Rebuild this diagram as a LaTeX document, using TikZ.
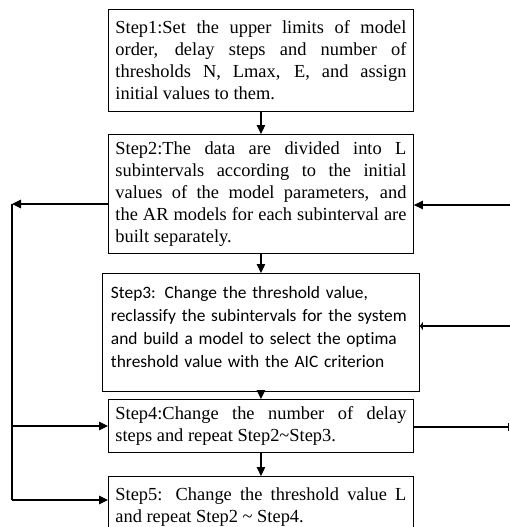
\documentclass[tikz,border=0pt]{standalone}
\usepackage{fontspec}
\setmainfont{Liberation Serif}
\newfontfamily\calfont[Ligatures=NoCommon]{Carlito}
\usetikzlibrary{arrows.meta}

\begin{document}
\begin{tikzpicture}[x=1pt, y=-1pt,
    box/.style={draw, line width=0.9pt, anchor=north west, inner xsep=7pt, inner ysep=0pt,
                text width=291pt, align=justify, font=\fontsize{18.4}{22}\selectfont},
    flow/.style={line width=1.1pt, -{Triangle[length=9pt,width=8.5pt]}}]
    \useasboundingbox (0,0) rectangle (510,527);
    \clip (0,0) rectangle (510,527);

    \node[box, minimum height=102pt] (s1) at (108,9) {Step1:Set the upper limits of model\linebreak order, delay steps and number of\linebreak thresholds N, Lmax, E, and assign\linebreak initial values to them.};
    \node[box, minimum height=119pt] (s2) at (108,134) {Step2:The data are divided into L\linebreak subintervals according to the initial\linebreak values of the model parameters, and\linebreak the AR models for each subinterval are\linebreak built separately.};
    \node[box, minimum height=118pt, inner xsep=8.5pt, text width=300pt, align=left,
          font=\calfont\fontsize{17.4}{23}\selectfont] (s3) at (102,273) {Step3: Change the threshold value,\\ reclassify the subintervals for the system\\ and build a model to select the optima\\ threshold value with the AIC criterion\\[-12pt]\mbox{}};
    \node[box, minimum height=53pt] (s4) at (108,399) {Step4:Change the number of delay\linebreak steps and repeat Step2\textasciitilde{}Step3.};
    \node[box, minimum height=62pt] (s5) at (108,476) {Step5: Change the threshold value L\linebreak and repeat Step2 \textasciitilde{} Step4.};

    \coordinate (l2) at (12,204);
    \coordinate (l4) at (12,426);
    \coordinate (l5) at (12,500);
    \coordinate (r2) at (510,205);
    \coordinate (r3) at (510,326);
    \coordinate (r4) at (509,427);

    \draw[flow] (s1) -- (s2);
    \draw[flow] (s2) -- (s3);
    \draw[flow] (s3) -- (s4);
    \draw[flow] (s4) -- (s5);

    \draw[flow] (s2.west |- l2) -- (l2);
    \draw[line width=1.1pt] (l2) -- (l5);
    \draw[flow] (l4) -- (s4.west |- l4);
    \draw[flow] (l5) -- (s5.west |- l5);

    \draw[flow] (r2) -- (s2.east |- r2);
    \draw[line width=1.1pt, -{Triangle[length=3pt,width=8pt]}] (r3) -- (s3.east |- r3);
    \draw[line width=1.1pt, -{Bar[width=8pt]}] (s4.east |- r4) -- (r4);
\end{tikzpicture}
\end{document}
